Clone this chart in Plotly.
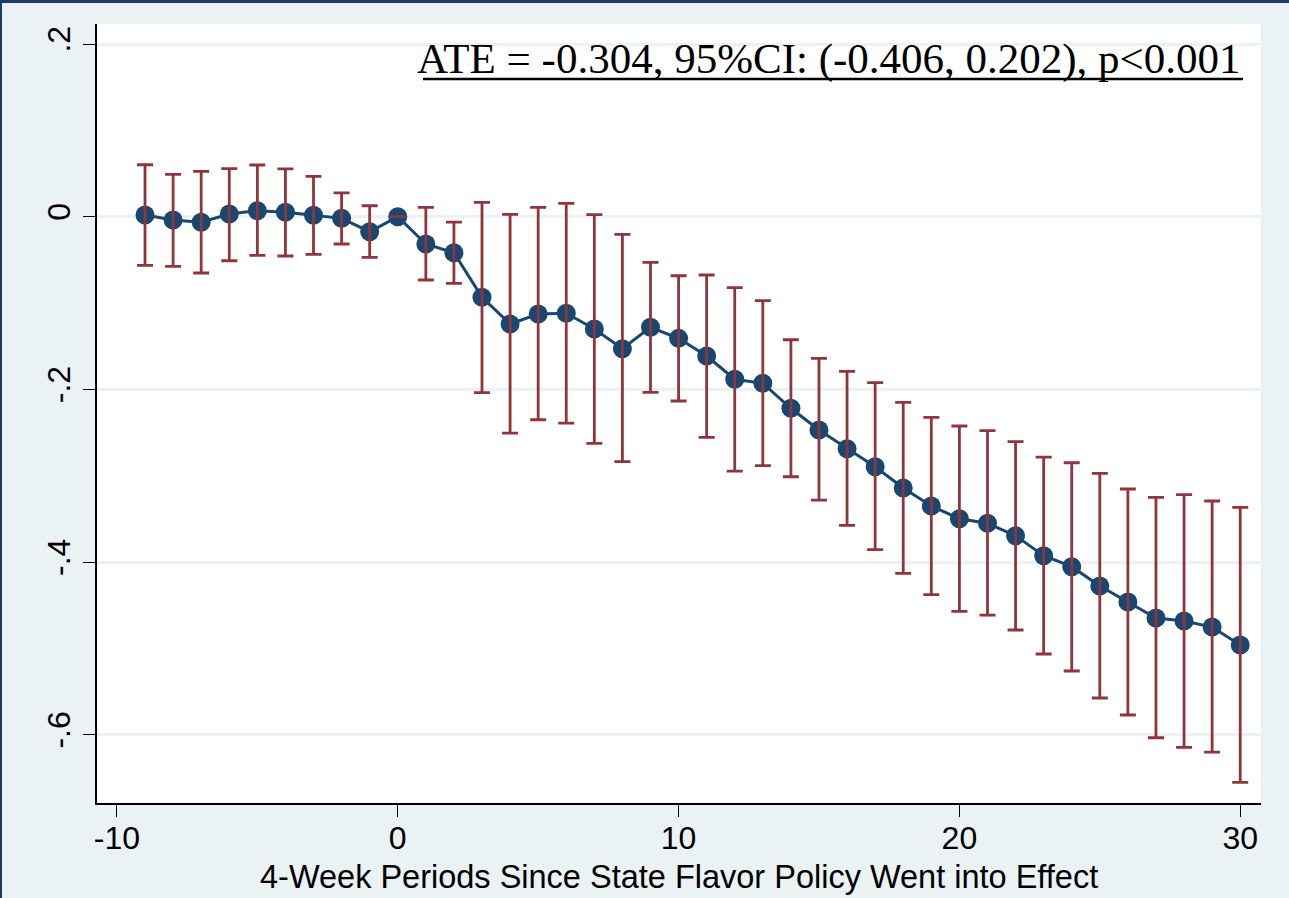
import plotly.graph_objects as go

periods = list(range(-9, 31))
estimate = [0.0020, -0.0038, -0.0065, 0.0031, 0.0070, 0.0051, 0.0016, -0.0019, -0.0174, 0.0,
            -0.0316, -0.0417, -0.0934, -0.1243, -0.1127, -0.1119, -0.1301, -0.1529, -0.1281, -0.1409,
            -0.1614, -0.1883, -0.1930, -0.2219, -0.2471, -0.2687, -0.2896, -0.3143, -0.3351, -0.3498,
            -0.3551, -0.3695, -0.3927, -0.4054, -0.4278, -0.4463, -0.4648, -0.4683, -0.4753, -0.4961]
ci_upper = [0.0602, 0.0491, 0.0526, 0.0556, 0.0599, 0.0553, 0.0468, 0.0275, 0.0127, 0.0,
            0.0108, -0.0063, 0.0167, 0.0028, 0.0108, 0.0155, 0.0023, -0.0204, -0.0528, -0.0684,
            -0.0675, -0.0822, -0.0973, -0.1425, -0.1640, -0.1791, -0.1923, -0.2150, -0.2324, -0.2424,
            -0.2479, -0.2606, -0.2784, -0.2850, -0.2972, -0.3154, -0.3250, -0.3220, -0.3293, -0.3366]
ci_lower = [-0.0563, -0.0575, -0.0652, -0.0510, -0.0447, -0.0455, -0.0436, -0.0316, -0.0470, 0.0,
            -0.0733, -0.0772, -0.2038, -0.2506, -0.2352, -0.2390, -0.2625, -0.2838, -0.2034, -0.2135,
            -0.2555, -0.2946, -0.2884, -0.3012, -0.3282, -0.3575, -0.3857, -0.4131, -0.4378, -0.4571,
            -0.4614, -0.4787, -0.5065, -0.5262, -0.5575, -0.5772, -0.6035, -0.6146, -0.6201, -0.6552]

x_ticks = [-10, 0, 10, 20, 30]
x_tick_labels = ["-10", "0", "10", "20", "30"]
y_ticks = [0.2, 0.0, -0.2, -0.4, -0.6]
y_tick_labels = [".2", "0", "-.2", "-.4", "-.6"]
x_title = "4-Week Periods Since State Flavor Policy Went into Effect"
ate_text = "ATE = -0.304, 95%CI: (-0.406, 0.202), p<0.001"

navy = "#1A476F"
maroon = "#90353B"
bg = "#EAF2F3"
frame = "#1F3A68"

err_plus = [u - e for u, e in zip(ci_upper, estimate)]
err_minus = [e - l for e, l in zip(estimate, ci_lower)]

fig = go.Figure()
fig.add_trace(go.Scatter(
    x=periods, y=estimate, mode="lines+markers",
    line=dict(color=navy, width=3),
    marker=dict(color=navy, size=19),
    showlegend=False,
))
fig.add_trace(go.Scatter(
    x=periods, y=estimate, mode="markers",
    marker=dict(color="rgba(0,0,0,0)", size=1),
    error_y=dict(type="data", symmetric=False, array=err_plus, arrayminus=err_minus,
                 color=maroon, thickness=2.8, width=8),
    showlegend=False,
))

W, H = 1289, 898
ml, mr, mt, mb = 97, 28, 24, 95
pw, ph = W - ml - mr, H - mt - mb

def px_x(v):
    return (v - ml) / pw

def px_y(v):
    return (H - mb - v) / ph

# dark frame strips (top and left) in paper coordinates
fig.add_shape(type="rect", xref="paper", yref="paper",
              x0=-ml / pw, x1=(W - ml) / pw, y0=1 + (mt - 3) / ph, y1=1 + mt / ph + 0.01,
              fillcolor=frame, line_width=0, layer="above")
fig.add_shape(type="rect", xref="paper", yref="paper",
              x0=-ml / pw - 0.01, x1=-(ml - 2) / pw, y0=-mb / ph - 0.01, y1=1 + mt / ph + 0.01,
              fillcolor=frame, line_width=0, layer="above")

fig.add_annotation(
    x=px_x(1243), xref="paper", xanchor="right",
    y=px_y(59), yref="paper", yanchor="middle",
    text=ate_text, showarrow=False,
    font=dict(family="Liberation Serif, Times New Roman, serif", size=43, color="black"),
)
# underline of the ATE note
fig.add_shape(type="line", xref="paper", yref="paper",
              x0=px_x(423), x1=px_x(1243), y0=px_y(79), y1=px_y(79),
              line=dict(color="black", width=2.5))

# x-axis title placed as annotation to match vertical position
fig.add_annotation(
    x=px_x(679), xref="paper", xanchor="center",
    y=-74 / ph, yref="paper", yanchor="middle",
    text=x_title, showarrow=False,
    font=dict(family="Liberation Sans, Arial, sans-serif", size=32.5, color="black"),
)

fig.update_layout(
    width=W, height=H,
    margin=dict(l=ml, r=mr, t=mt, b=mb),
    paper_bgcolor=bg, plot_bgcolor="white",
    font=dict(family="Liberation Sans, Arial, sans-serif", color="black", size=32),
    xaxis=dict(
        range=[-10.71, 30.74], tickvals=x_ticks, ticktext=x_tick_labels,
        ticks="outside", ticklen=12, tickwidth=1.2, ticklabelstandoff=-6,
        tickcolor="black", showline=True, linecolor="black", linewidth=1.5,
        showgrid=False, zeroline=False, tickfont=dict(size=32),
    ),
    yaxis=dict(
        range=[-0.6791, 0.2232], tickvals=y_ticks, ticktext=y_tick_labels, tickangle=-90,
        ticks="outside", ticklen=12, tickwidth=1.2, tickcolor="black",
        showline=True, linecolor="black", linewidth=1.5,
        showgrid=True, gridcolor=bg, gridwidth=2.5, zeroline=False,
        tickfont=dict(size=32),
    ),
)

fig.write_html("out.html", config={"displayModeBar": False},
               post_script="document.body.style.margin='0';document.body.style.overflow='hidden';")
